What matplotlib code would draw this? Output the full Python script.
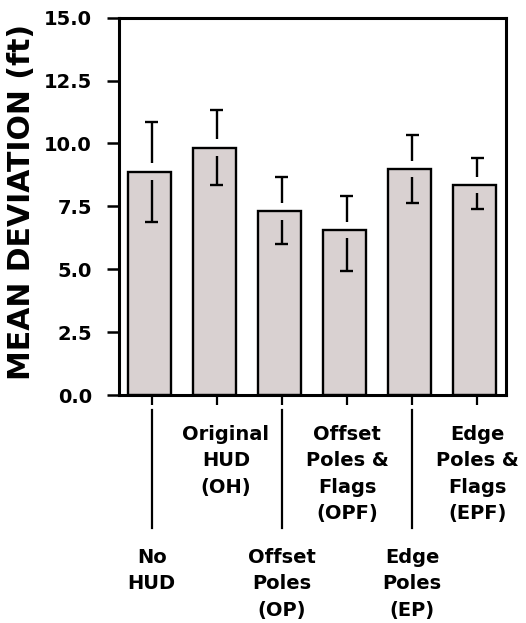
import matplotlib.pyplot as plt
import matplotlib.transforms as mtransforms

labels = ['No\nHUD', 'Original\nHUD\n(OH)', 'Offset\nPoles\n(OP)',
          'Offset\nPoles &\nFlags\n(OPF)', 'Edge\nPoles\n(EP)',
          'Edge\nPoles &\nFlags\n(EPF)']
means = [8.88, 9.83, 7.31, 6.57, 8.99, 8.35]
err_hi = [1.99, 1.50, 1.35, 1.35, 1.35, 1.06]
err_lo = [2.01, 1.48, 1.30, 1.62, 1.36, 0.96]
yticks = [0.0, 2.5, 5.0, 7.5, 10.0, 12.5, 15.0]

plt.rcParams['font.family'] = ['DejaVu Sans']
plt.rcParams['font.weight'] = 'bold'

fig = plt.figure(figsize=(5.26, 6.23), dpi=100)
ax = fig.add_axes([0.2262, 0.3652, 0.7352, 0.6067])

xs = list(range(1, len(means) + 1))
ax.bar([x - 0.04 for x in xs], means, width=0.66, color='#d9d1d1',
       edgecolor='black', linewidth=1.7, zorder=2)

# error bars broken around the top of each bar
gap = 0.33
cap = 0.1
for x, m, hi, lo in zip(xs, means, err_hi, err_lo):
    ax.vlines(x, m + gap, m + hi, color='black', lw=1.7, zorder=3)
    ax.vlines(x, m - lo, m - gap, color='black', lw=1.7, zorder=3)
    ax.hlines([m + hi, m - lo], x - cap, x + cap, color='black', lw=1.7, zorder=3)

ax.set_xlim(0.498, 6.438)
ax.set_ylim(0, 15)
ax.set_yticks(yticks)
ax.set_yticklabels([f'{v:.1f}' for v in yticks], fontsize=14, fontweight='bold')
ax.tick_params(axis='y', length=8.5, width=1.8, pad=11)
ax.set_xticks(xs)
ax.set_xticklabels([])
ax.tick_params(axis='x', length=7, width=1.6)
for s in ax.spines.values():
    s.set_linewidth(2.2)

trans = mtransforms.blended_transform_factory(ax.transData, ax.transAxes)
offsets = [0, 0.14, 0, 0, 0, 0]
for i, (x, lab) in enumerate(zip(xs, labels)):
    if i % 2 == 0:
        ax.plot([x, x], [-0.0384, -0.3505], color='black', lw=1.6,
                transform=trans, clip_on=False)
        y = -0.403
    else:
        y = -0.078
    ax.text(x + offsets[i], y, lab, transform=trans, ha='center', va='top',
            fontsize=14, fontweight='bold', linespacing=1.5, multialignment='center')

fig.text(22 / 526, 1 - 202 / 623, 'MEAN DEVIATION (ft)', rotation=90,
         ha='center', va='center', fontsize=21.5, fontweight='bold')

fig.savefig('out.png', dpi=100)
